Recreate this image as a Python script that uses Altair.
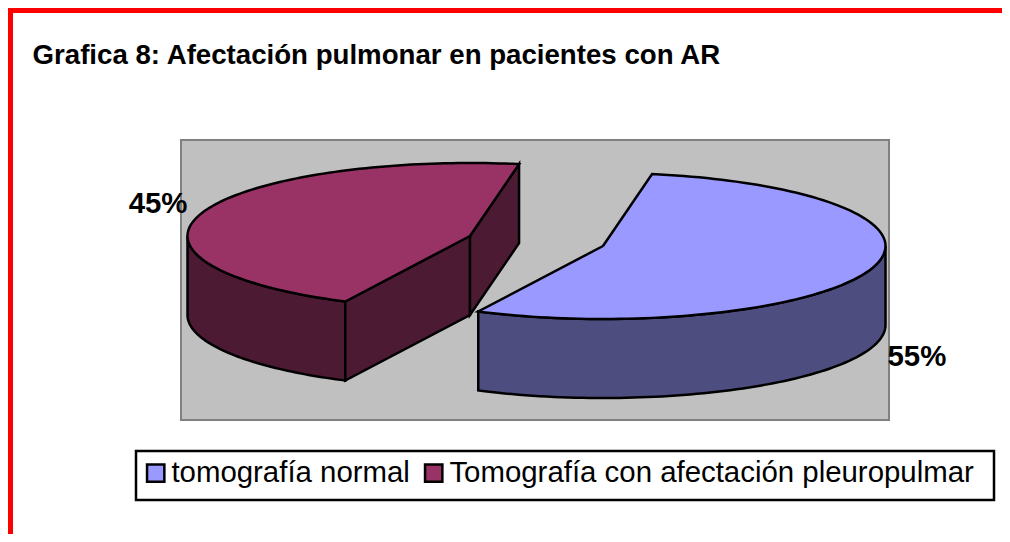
import numpy as np
import pandas as pd
import altair as alt

# chart values
categories = ["tomografía normal", "Tomografía con afectación pleuropulmar"]
shares = [54.5, 45.5]
labels = ["55%", "45%"]
top_colors = ["#9999ff", "#993366"]
wall_colors = ["#4d4d80", "#4d1a33"]
title = "Grafica 8: Afectación pulmonar en pacientes con AR"

# projection of the tilted pie inside the plot area
W, H = 708, 280
RX, RY, DEPTH = 282.5, 73, 79
START = 80.0
CENTERS = [(422, 106), (289, 96)]


def rim(c, t):
    t = np.radians(np.asarray(t, dtype=float))
    return c[0] + RX * np.cos(t), c[1] - RY * np.sin(t)


tops, walls = [], []


def add(rows, name, fill, xs, ys):
    xs = list(xs) + [xs[0]]
    ys = list(ys) + [ys[0]]
    for i, (x, y) in enumerate(zip(xs, ys)):
        rows.append(dict(piece=name, cat=fill, x=x, y=y, i=i))


span0 = shares[0] / 100 * 360
span1 = shares[1] / 100 * 360

# right slice: clockwise from START
c = CENTERS[0]
t = np.linspace(START, START - span0, 120)
rx_, ry_ = rim(c, t)
add(tops, "top0", categories[0], [c[0]] + list(rx_), [c[1]] + list(ry_))
t = np.linspace(0, START - span0, 80)
ax, ay = rim(c, t)
add(walls, "w0", wall_colors[0], list(ax) + list(ax[::-1]), list(ay) + list(ay[::-1] + DEPTH))

# left slice: counter-clockwise from START
c = CENTERS[1]
t = np.linspace(START, START + span1, 120)
lx, ly = rim(c, t)
add(tops, "top1", categories[1], [c[0]] + list(lx), [c[1]] + list(ly))
t = np.linspace(180, START + span1, 60)
ax, ay = rim(c, t)
add(walls, "w1", wall_colors[1], list(ax) + list(ax[::-1]), list(ay) + list(ay[::-1] + DEPTH))
ex, ey = rim(c, START + span1)
add(walls, "w2", wall_colors[1], [ex, c[0], c[0], ex], [ey, c[1], c[1] + DEPTH, ey + DEPTH])
ex, ey = rim(c, START)
add(walls, "w3", wall_colors[1], [c[0], ex, ex, c[0]], [c[1], ey, ey + DEPTH, c[1] + DEPTH])

x = alt.X("x:Q", scale=alt.Scale(domain=[0, W]), axis=None)
y = alt.Y("y:Q", scale=alt.Scale(domain=[H, 0]), axis=None)

LINE = dict(stroke="black", strokeWidth=2.5, strokeJoin="miter", interpolate="linear")

wall_layer = alt.Chart(pd.DataFrame(walls)).mark_line(**LINE).encode(
    x=x, y=y, order="i:Q", detail="piece:N", fill=alt.Fill("cat:N", scale=None)
)
top_layer = alt.Chart(pd.DataFrame(tops)).mark_line(**LINE).encode(
    x=x, y=y, order="i:Q", detail="piece:N",
    fill=alt.Fill(
        "cat:N",
        sort=categories,
        scale=alt.Scale(domain=categories, range=top_colors),
        legend=alt.Legend(
            title=None, orient="none", legendX=-49, legendY=309, direction="horizontal",
            symbolType="square", symbolSize=300, symbolStrokeWidth=2.5, symbolStrokeColor="black",
            labelFont="Liberation Sans", labelFontSize=29.4, labelColor="black",
            labelLimit=700, labelOffset=1, columnPadding=9, padding=9,
        ),
    ),
)

lab0x, lab0y = rim(CENTERS[0], 0)
lab1x, lab1y = rim(CENTERS[1], 180)
label_style = dict(font="Liberation Sans", fontSize=29.4, fontWeight="bold", color="black")
lab_right = alt.Chart(pd.DataFrame([dict(x=lab0x, y=lab0y + DEPTH, t=labels[0])])).mark_text(
    align="left", baseline="middle", dx=2, dy=32, **label_style
).encode(x=x, y=y, text="t:N")
lab_left = alt.Chart(pd.DataFrame([dict(x=lab1x, y=lab1y, t=labels[1])])).mark_text(
    align="right", baseline="middle", dx=0, dy=-32, **label_style
).encode(x=x, y=y, text="t:N")

blank = pd.DataFrame({"a": [0]})
border_top = alt.Chart(blank).mark_rule(color="#ff0000", strokeWidth=5).encode(
    x=alt.value(-173), x2=alt.value(821), y=alt.value(-129.5)
)
border_left = alt.Chart(blank).mark_rule(color="#ff0000", strokeWidth=5).encode(
    x=alt.value(-170.5), y=alt.value(-132), y2=alt.value(394)
)
legend_box = alt.Chart(blank).mark_rect(fill="white", stroke="black", strokeWidth=2.5).encode(
    x=alt.value(-45), x2=alt.value(813), y=alt.value(311), y2=alt.value(360)
)

chart = (
    alt.layer(legend_box, wall_layer, top_layer, lab_right, lab_left, border_top, border_left)
    .properties(
        width=W,
        height=H,
        autosize="none",
        padding={"left": 173, "top": 132, "right": 113, "bottom": 114},
        background="white",
        title=alt.TitleParams(
            title, anchor="start", font="Liberation Sans", fontSize=27.65, fontWeight="bold",
            color="black", dx=27, dy=64, offset=0,
        ),
    )
    .configure_view(fill="#c0c0c0", stroke="#808080", strokeWidth=2)
)

chart.save("out.html", embed_options={"renderer": "svg", "actions": False})
